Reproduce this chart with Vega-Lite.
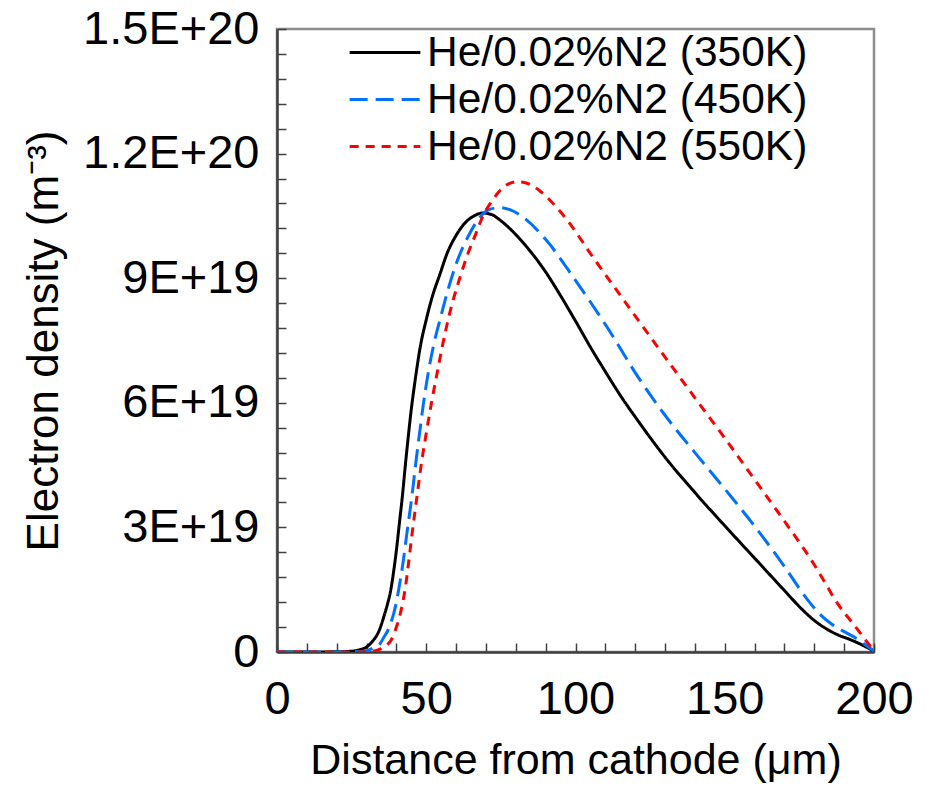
{
  "$schema": "https://vega.github.io/schema/vega-lite/v6.json",
  "autosize": "none",
  "width": 597,
  "height": 623,
  "padding": {"left": 277, "top": 29, "right": 53, "bottom": 134},
  "background": "white",
  "config": {
    "font": "Liberation Sans",
    "view": {"stroke": "#8c8c8c", "strokeWidth": 2.5},
    "axis": {
      "grid": false,
      "domainColor": "#404040",
      "domainWidth": 2.5,
      "tickColor": "#404040",
      "tickWidth": 1.5,
      "labelFont": "Liberation Sans",
      "labelFontSize": 47,
      "labelColor": "black",
      "titleFont": "Liberation Sans",
      "titleFontSize": 44,
      "titleFontWeight": "normal",
      "titleColor": "black"
    }
  },
  "data": {
    "values": [
      {"x": 0, "n": 0, "s": "He/0.02%N2 (350K)"},
      {"x": 10, "n": 0, "s": "He/0.02%N2 (350K)"},
      {"x": 20, "n": 0.05e18, "s": "He/0.02%N2 (350K)"},
      {"x": 25, "n": 0.2e18, "s": "He/0.02%N2 (350K)"},
      {"x": 28, "n": 0.6e18, "s": "He/0.02%N2 (350K)"},
      {"x": 30, "n": 1.2e18, "s": "He/0.02%N2 (350K)"},
      {"x": 32, "n": 2.6e18, "s": "He/0.02%N2 (350K)"},
      {"x": 34, "n": 4.8e18, "s": "He/0.02%N2 (350K)"},
      {"x": 36, "n": 9e18, "s": "He/0.02%N2 (350K)"},
      {"x": 37, "n": 11.5e18, "s": "He/0.02%N2 (350K)"},
      {"x": 38, "n": 14.5e18, "s": "He/0.02%N2 (350K)"},
      {"x": 39, "n": 19e18, "s": "He/0.02%N2 (350K)"},
      {"x": 40, "n": 24.5e18, "s": "He/0.02%N2 (350K)"},
      {"x": 41, "n": 31e18, "s": "He/0.02%N2 (350K)"},
      {"x": 42, "n": 37.5e18, "s": "He/0.02%N2 (350K)"},
      {"x": 43, "n": 45e18, "s": "He/0.02%N2 (350K)"},
      {"x": 44, "n": 52e18, "s": "He/0.02%N2 (350K)"},
      {"x": 45, "n": 58.5e18, "s": "He/0.02%N2 (350K)"},
      {"x": 46, "n": 64e18, "s": "He/0.02%N2 (350K)"},
      {"x": 47, "n": 69e18, "s": "He/0.02%N2 (350K)"},
      {"x": 48, "n": 73.5e18, "s": "He/0.02%N2 (350K)"},
      {"x": 50, "n": 80e18, "s": "He/0.02%N2 (350K)"},
      {"x": 52, "n": 85.5e18, "s": "He/0.02%N2 (350K)"},
      {"x": 54.6, "n": 91e18, "s": "He/0.02%N2 (350K)"},
      {"x": 57, "n": 96e18, "s": "He/0.02%N2 (350K)"},
      {"x": 60, "n": 100.3e18, "s": "He/0.02%N2 (350K)"},
      {"x": 63, "n": 103.3e18, "s": "He/0.02%N2 (350K)"},
      {"x": 66, "n": 105e18, "s": "He/0.02%N2 (350K)"},
      {"x": 69, "n": 105.7e18, "s": "He/0.02%N2 (350K)"},
      {"x": 72, "n": 105.3e18, "s": "He/0.02%N2 (350K)"},
      {"x": 74.7, "n": 104e18, "s": "He/0.02%N2 (350K)"},
      {"x": 80, "n": 100.5e18, "s": "He/0.02%N2 (350K)"},
      {"x": 83.7, "n": 97.5e18, "s": "He/0.02%N2 (350K)"},
      {"x": 90, "n": 91.5e18, "s": "He/0.02%N2 (350K)"},
      {"x": 93.8, "n": 87.2e18, "s": "He/0.02%N2 (350K)"},
      {"x": 100, "n": 79.7e18, "s": "He/0.02%N2 (350K)"},
      {"x": 105, "n": 73.4e18, "s": "He/0.02%N2 (350K)"},
      {"x": 110, "n": 67.5e18, "s": "He/0.02%N2 (350K)"},
      {"x": 115, "n": 61.8e18, "s": "He/0.02%N2 (350K)"},
      {"x": 121.6, "n": 55e18, "s": "He/0.02%N2 (350K)"},
      {"x": 130, "n": 46.9e18, "s": "He/0.02%N2 (350K)"},
      {"x": 140, "n": 38.4e18, "s": "He/0.02%N2 (350K)"},
      {"x": 150, "n": 30.4e18, "s": "He/0.02%N2 (350K)"},
      {"x": 160, "n": 22.6e18, "s": "He/0.02%N2 (350K)"},
      {"x": 170, "n": 14.8e18, "s": "He/0.02%N2 (350K)"},
      {"x": 176, "n": 10.2e18, "s": "He/0.02%N2 (350K)"},
      {"x": 180, "n": 7.6e18, "s": "He/0.02%N2 (350K)"},
      {"x": 184, "n": 5.6e18, "s": "He/0.02%N2 (350K)"},
      {"x": 188, "n": 4.1e18, "s": "He/0.02%N2 (350K)"},
      {"x": 192, "n": 3.0e18, "s": "He/0.02%N2 (350K)"},
      {"x": 196, "n": 1.7e18, "s": "He/0.02%N2 (350K)"},
      {"x": 200, "n": 0.2e18, "s": "He/0.02%N2 (350K)"},

      {"x": 0, "n": 0, "s": "He/0.02%N2 (450K)"},
      {"x": 20, "n": 0, "s": "He/0.02%N2 (450K)"},
      {"x": 28, "n": 0.1e18, "s": "He/0.02%N2 (450K)"},
      {"x": 30, "n": 0.3e18, "s": "He/0.02%N2 (450K)"},
      {"x": 32.3, "n": 1.0e18, "s": "He/0.02%N2 (450K)"},
      {"x": 34.5, "n": 2.0e18, "s": "He/0.02%N2 (450K)"},
      {"x": 36, "n": 3.8e18, "s": "He/0.02%N2 (450K)"},
      {"x": 37, "n": 5e18, "s": "He/0.02%N2 (450K)"},
      {"x": 38, "n": 6.8e18, "s": "He/0.02%N2 (450K)"},
      {"x": 39, "n": 9e18, "s": "He/0.02%N2 (450K)"},
      {"x": 40, "n": 12e18, "s": "He/0.02%N2 (450K)"},
      {"x": 41, "n": 16e18, "s": "He/0.02%N2 (450K)"},
      {"x": 42.2, "n": 21.4e18, "s": "He/0.02%N2 (450K)"},
      {"x": 43.5, "n": 28.5e18, "s": "He/0.02%N2 (450K)"},
      {"x": 45.2, "n": 37.5e18, "s": "He/0.02%N2 (450K)"},
      {"x": 46.5, "n": 45.5e18, "s": "He/0.02%N2 (450K)"},
      {"x": 47.9, "n": 53.5e18, "s": "He/0.02%N2 (450K)"},
      {"x": 49, "n": 59.5e18, "s": "He/0.02%N2 (450K)"},
      {"x": 50.6, "n": 67e18, "s": "He/0.02%N2 (450K)"},
      {"x": 52.5, "n": 74e18, "s": "He/0.02%N2 (450K)"},
      {"x": 54.6, "n": 80e18, "s": "He/0.02%N2 (450K)"},
      {"x": 57, "n": 86.5e18, "s": "He/0.02%N2 (450K)"},
      {"x": 60.3, "n": 94e18, "s": "He/0.02%N2 (450K)"},
      {"x": 64, "n": 100e18, "s": "He/0.02%N2 (450K)"},
      {"x": 68, "n": 104.7e18, "s": "He/0.02%N2 (450K)"},
      {"x": 71, "n": 106.5e18, "s": "He/0.02%N2 (450K)"},
      {"x": 74.7, "n": 107e18, "s": "He/0.02%N2 (450K)"},
      {"x": 78, "n": 106.5e18, "s": "He/0.02%N2 (450K)"},
      {"x": 82.4, "n": 104.7e18, "s": "He/0.02%N2 (450K)"},
      {"x": 90.4, "n": 99e18, "s": "He/0.02%N2 (450K)"},
      {"x": 99.2, "n": 90.3e18, "s": "He/0.02%N2 (450K)"},
      {"x": 110.5, "n": 78.3e18, "s": "He/0.02%N2 (450K)"},
      {"x": 121.6, "n": 65.5e18, "s": "He/0.02%N2 (450K)"},
      {"x": 130, "n": 57e18, "s": "He/0.02%N2 (450K)"},
      {"x": 140, "n": 48e18, "s": "He/0.02%N2 (450K)"},
      {"x": 150, "n": 39.3e18, "s": "He/0.02%N2 (450K)"},
      {"x": 160, "n": 30.3e18, "s": "He/0.02%N2 (450K)"},
      {"x": 170, "n": 20.6e18, "s": "He/0.02%N2 (450K)"},
      {"x": 177.5, "n": 12.8e18, "s": "He/0.02%N2 (450K)"},
      {"x": 182, "n": 9e18, "s": "He/0.02%N2 (450K)"},
      {"x": 186, "n": 6.6e18, "s": "He/0.02%N2 (450K)"},
      {"x": 190, "n": 4.9e18, "s": "He/0.02%N2 (450K)"},
      {"x": 194, "n": 3.3e18, "s": "He/0.02%N2 (450K)"},
      {"x": 197, "n": 1.8e18, "s": "He/0.02%N2 (450K)"},
      {"x": 200, "n": 0.2e18, "s": "He/0.02%N2 (450K)"},

      {"x": 0, "n": 0, "s": "He/0.02%N2 (550K)"},
      {"x": 20, "n": 0, "s": "He/0.02%N2 (550K)"},
      {"x": 30, "n": 0.05e18, "s": "He/0.02%N2 (550K)"},
      {"x": 33, "n": 0.3e18, "s": "He/0.02%N2 (550K)"},
      {"x": 34.5, "n": 0.7e18, "s": "He/0.02%N2 (550K)"},
      {"x": 36.5, "n": 1.5e18, "s": "He/0.02%N2 (550K)"},
      {"x": 38, "n": 2.6e18, "s": "He/0.02%N2 (550K)"},
      {"x": 39, "n": 4e18, "s": "He/0.02%N2 (550K)"},
      {"x": 40, "n": 6e18, "s": "He/0.02%N2 (550K)"},
      {"x": 41, "n": 8.3e18, "s": "He/0.02%N2 (550K)"},
      {"x": 42, "n": 11.5e18, "s": "He/0.02%N2 (550K)"},
      {"x": 43, "n": 15.5e18, "s": "He/0.02%N2 (550K)"},
      {"x": 44, "n": 21e18, "s": "He/0.02%N2 (550K)"},
      {"x": 45, "n": 27e18, "s": "He/0.02%N2 (550K)"},
      {"x": 46.9, "n": 37.5e18, "s": "He/0.02%N2 (550K)"},
      {"x": 48.5, "n": 46e18, "s": "He/0.02%N2 (550K)"},
      {"x": 50.2, "n": 53.5e18, "s": "He/0.02%N2 (550K)"},
      {"x": 52, "n": 61e18, "s": "He/0.02%N2 (550K)"},
      {"x": 53.6, "n": 67e18, "s": "He/0.02%N2 (550K)"},
      {"x": 55.5, "n": 74e18, "s": "He/0.02%N2 (550K)"},
      {"x": 58, "n": 82e18, "s": "He/0.02%N2 (550K)"},
      {"x": 61, "n": 89.5e18, "s": "He/0.02%N2 (550K)"},
      {"x": 64, "n": 96e18, "s": "He/0.02%N2 (550K)"},
      {"x": 66.5, "n": 100.5e18, "s": "He/0.02%N2 (550K)"},
      {"x": 69, "n": 105e18, "s": "He/0.02%N2 (550K)"},
      {"x": 72.4, "n": 109e18, "s": "He/0.02%N2 (550K)"},
      {"x": 76, "n": 112e18, "s": "He/0.02%N2 (550K)"},
      {"x": 80.4, "n": 113.2e18, "s": "He/0.02%N2 (550K)"},
      {"x": 84, "n": 112.8e18, "s": "He/0.02%N2 (550K)"},
      {"x": 88.1, "n": 111e18, "s": "He/0.02%N2 (550K)"},
      {"x": 92.5, "n": 108e18, "s": "He/0.02%N2 (550K)"},
      {"x": 97.2, "n": 104e18, "s": "He/0.02%N2 (550K)"},
      {"x": 105.9, "n": 95e18, "s": "He/0.02%N2 (550K)"},
      {"x": 115.9, "n": 85e18, "s": "He/0.02%N2 (550K)"},
      {"x": 121.6, "n": 79.3e18, "s": "He/0.02%N2 (550K)"},
      {"x": 130, "n": 71e18, "s": "He/0.02%N2 (550K)"},
      {"x": 140, "n": 61.2e18, "s": "He/0.02%N2 (550K)"},
      {"x": 150, "n": 51.5e18, "s": "He/0.02%N2 (550K)"},
      {"x": 160, "n": 41.5e18, "s": "He/0.02%N2 (550K)"},
      {"x": 170, "n": 31.5e18, "s": "He/0.02%N2 (550K)"},
      {"x": 180, "n": 21e18, "s": "He/0.02%N2 (550K)"},
      {"x": 184, "n": 16.2e18, "s": "He/0.02%N2 (550K)"},
      {"x": 187, "n": 12.5e18, "s": "He/0.02%N2 (550K)"},
      {"x": 190, "n": 9.5e18, "s": "He/0.02%N2 (550K)"},
      {"x": 193.9, "n": 6e18, "s": "He/0.02%N2 (550K)"},
      {"x": 197, "n": 3e18, "s": "He/0.02%N2 (550K)"},
      {"x": 200, "n": 0.3e18, "s": "He/0.02%N2 (550K)"}
    ]
  },
  "mark": {"type": "line", "strokeWidth": 3, "interpolate": "monotone", "clip": true},
  "encoding": {
    "x": {
      "field": "x",
      "type": "quantitative",
      "scale": {"domain": [0, 200], "nice": false, "zero": false},
      "axis": {
        "title": "Distance from cathode (μm)",
        "titleFontSize": 43,
        "values": [0, 10, 20, 30, 40, 50, 60, 70, 80, 90, 100, 110, 120, 130, 140, 150, 160, 170, 180, 190, 200],
        "labelExpr": "datum.value % 50 == 0 ? datum.label : ''",
        "tickSize": -9,
        "labelPadding": 33,
        "labelFlush": false,
        "labelOverlap": false,
        "titlePadding": 17
      }
    },
    "y": {
      "field": "n",
      "type": "quantitative",
      "scale": {"domain": [0, 150e18], "nice": false},
      "axis": {
        "title": "Electron density (m⁻³)",
        "values": [0, 6e18, 12e18, 18e18, 24e18, 30e18, 36e18, 42e18, 48e18, 54e18, 60e18, 66e18, 72e18, 78e18, 84e18, 90e18, 96e18, 102e18, 108e18, 114e18, 120e18, 126e18, 132e18, 138e18, 144e18, 150e18],
        "labelExpr": "round(datum.value / 1e18) % 30 == 0 ? (datum.value == 0 ? '0' : upper(format(datum.value, '.2~e'))) : ''",
        "tickSize": -9,
        "labelPadding": 27,
        "labelFlush": false,
        "labelOverlap": false,
        "titlePadding": 16
      }
    },
    "color": {
      "field": "s",
      "type": "nominal",
      "scale": {"domain": ["He/0.02%N2 (350K)", "He/0.02%N2 (450K)", "He/0.02%N2 (550K)"], "range": ["#000000", "#0070FF", "#FF0000"]},
      "legend": {
        "orient": "none",
        "legendX": 71,
        "legendY": 0,
        "title": null,
        "padding": 0,
        "symbolType": "stroke",
        "symbolSize": 5000,
        "symbolStrokeWidth": 3,
        "clipHeight": 47,
        "labelFontSize": 42.5,
        "labelFont": "Liberation Sans",
        "labelColor": "black",
        "labelOffset": 5,
        "rowPadding": 0,
        "labelLimit": 600
      }
    },
    "strokeDash": {
      "field": "s",
      "type": "nominal",
      "scale": {"domain": ["He/0.02%N2 (350K)", "He/0.02%N2 (450K)", "He/0.02%N2 (550K)"], "range": [[1, 0], [18, 8], [9, 7]]},
      "legend": null
    }
  }
}
